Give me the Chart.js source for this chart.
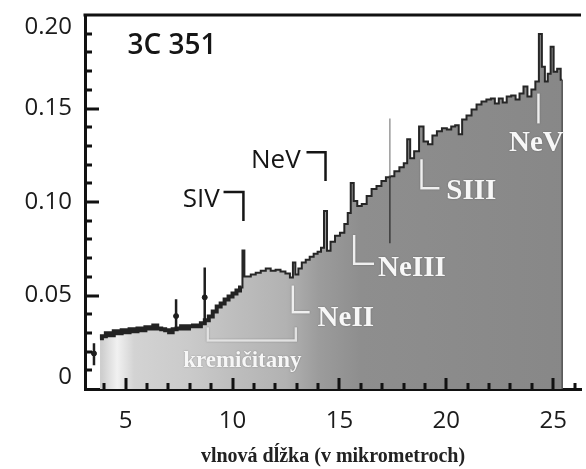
<!DOCTYPE html>
<html>
<head>
<meta charset="utf-8">
<script src="https://cdn.jsdelivr.net/npm/chart.js@4.4.0/dist/chart.umd.min.js"></script>
<style>
  html, body { margin: 0; padding: 0; background: #fff; }
  canvas { display: block; }
</style>
</head>
<body>
<canvas id="spectrum" width="586" height="469"></canvas>
<script>
// 3C 351 mid-infrared spectrum: flux vs. wavelength in micrometres
const wavelength = [
  3.80, 3.98, 4.17, 4.35, 4.54, 4.72, 4.91, 5.09, 5.28, 5.46, 5.65, 5.83, 6.02, 6.20, 6.39, 6.57,
  6.76, 6.94, 7.13, 7.27, 7.50, 7.69, 7.87, 8.06, 8.24, 8.43, 8.61, 8.80, 8.98, 9.17, 9.35, 9.54,
  9.72, 9.91, 10.09, 10.28, 10.42, 10.51, 10.60, 10.74, 10.97, 11.20, 11.44, 11.67, 11.90, 12.13,
  12.36, 12.59, 12.78, 12.87, 13.01, 13.15, 13.33, 13.52, 13.70, 13.89, 14.07, 14.21, 14.35, 14.49,
  14.68, 14.91, 15.14, 15.32, 15.46, 15.60, 15.74, 15.93, 16.16, 16.39, 16.62, 16.85, 17.08, 17.27,
  17.45, 17.69, 17.92, 18.10, 18.24, 18.38, 18.61, 18.84, 19.03, 19.26, 19.44, 19.68, 19.91, 20.14,
  20.32, 20.51, 20.65, 20.83, 21.06, 21.30, 21.53, 21.76, 21.99, 22.18, 22.36, 22.55, 22.73, 22.92,
  23.15, 23.33, 23.52, 23.70, 23.89, 24.07, 24.26, 24.40, 24.54, 24.68, 24.81, 24.95, 25.09, 25.28,
  25.42
];
const flux = [
  0.0271, 0.0282, 0.0298, 0.0287, 0.0309, 0.0298, 0.0314, 0.0303, 0.0319, 0.0309, 0.0324, 0.0314, 0.0330, 0.0324, 0.0340, 0.0324,
  0.0319, 0.0314, 0.0303, 0.0319, 0.0324, 0.0335, 0.0324, 0.0335, 0.0340, 0.0335, 0.0351, 0.0367, 0.0388, 0.0415, 0.0441, 0.0457,
  0.0479, 0.0495, 0.0511, 0.0527, 0.0543, 0.0740, 0.0601, 0.0601, 0.0612, 0.0622, 0.0633, 0.0644, 0.0633, 0.0638,
  0.0628, 0.0617, 0.0596, 0.0676, 0.0612, 0.0644, 0.0676, 0.0691, 0.0707, 0.0723, 0.0734, 0.0755, 0.0952, 0.0739,
  0.0787, 0.0819, 0.0835, 0.0883, 0.0941, 0.1101, 0.1005, 0.0979, 0.0989, 0.1032, 0.1069, 0.1085, 0.1112, 0.1133,
  0.1138, 0.1165, 0.1186, 0.1207, 0.1335, 0.1234, 0.1271, 0.1404, 0.1324, 0.1309, 0.1356, 0.1378, 0.1394, 0.1388,
  0.1404, 0.1410, 0.1362, 0.1441, 0.1463, 0.1495, 0.1521, 0.1537, 0.1548, 0.1553, 0.1527, 0.1553, 0.1532, 0.1564,
  0.1569, 0.1548, 0.1580, 0.1617, 0.1564, 0.1601, 0.1644, 0.1899, 0.1723, 0.1644, 0.1686, 0.1830, 0.1697, 0.1713,
  0.1654
];

// isolated measurements with error bars
const errX = [3.52, 7.36, 8.70];
const errY = [0.019, 0.039, 0.049];
const errLow = [0.0127, 0.031, 0.035];
const errHigh = [0.0245, 0.048, 0.065];

// thin spike near 17.4 um
const spikeX = [17.36, 17.36, 17.36];
const spikeY = [0.078, 0.114, 0.1447];

const xTicks = [5, 10, 15, 20, 25];
const yTicks = [0, 0.05, 0.10, 0.15, 0.20];
const yTickLabels = ['0', '0.05', '0.10', '0.15', '0.20'];

const spectrumPoints = wavelength.map((w, i) => ({ x: w, y: flux[i] }));
// the noisy short-wavelength part gets a heavier outline
const noisyPoints = spectrumPoints.filter(p => p.x <= 10.42);
const errorBarPoints = [];
errX.forEach((w, i) => {
  errorBarPoints.push({ x: w, y: errLow[i] }, { x: w, y: errHigh[i] }, { x: w + 0.01, y: null });
});
const errorCentres = errX.map((w, i) => ({ x: w, y: errY[i] }));
const spikePoints = spikeX.map((w, i) => ({ x: w, y: spikeY[i] }));

// grey fill: pale on the short-wavelength side, darker towards 25 um
function fillGradient(context) {
  const chart = context.chart;
  const { ctx, chartArea, scales } = chart;
  if (!chartArea) return '#999';
  const g = ctx.createLinearGradient(chartArea.left, 0, chartArea.right, 0);
  const stops = [
    [3.1, '#c4c4c4'], [3.9, '#cfcfcf'], [4.6, '#f1f1f1'], [5.4, '#d3d3d3'],
    [8.0, '#cacaca'], [10.0, '#bebebe'], [12.5, '#b2b2b2'], [14.0, '#9c9c9c'],
    [16.0, '#8e8e8e'], [26.3, '#878787']
  ];
  const w = chartArea.right - chartArea.left;
  stops.forEach(([v, c]) => {
    const f = (scales.x.getPixelForValue(v) - chartArea.left) / w;
    g.addColorStop(Math.min(1, Math.max(0, f)), c);
  });
  return g;
}

// inner tick marks, y labels, top frame line, emission-line markers and captions
const decorations = {
  id: 'decorations',
  afterDatasetsDraw(chart) {
    const { ctx, chartArea: a, scales: { x, y } } = chart;
    const X = v => x.getPixelForValue(v);
    const Y = v => y.getPixelForValue(v);
    const path = (pts) => {
      ctx.beginPath();
      pts.forEach(([p, q], i) => i ? ctx.lineTo(X(p), Y(q)) : ctx.moveTo(X(p), Y(q)));
      ctx.stroke();
    };
    ctx.save();

    // right-hand edge of the spectrum down to the axis
    const last = wavelength.length - 1;
    ctx.strokeStyle = '#505050';
    ctx.lineWidth = 1.5;
    path([[wavelength[last], flux[last]], [wavelength[last], 0]]);

    ctx.fillStyle = '#111';
    for (let v = 4; v <= 26; v++) {
      const px = Math.round(X(v));
      const len = v % 5 === 0 ? 11 : 6;
      ctx.fillRect(px - 1.5, a.bottom - len, 3, len);
    }
    for (let i = 1; i <= 19; i++) {
      const py = Math.round(Y(i / 100));
      const len = i % 5 === 0 ? 14 : 7;
      ctx.fillRect(a.left, py - 1.5, len, 3);
    }
    const top = Math.round(Y(0.20));
    ctx.fillRect(a.left - 1.5, top - 1.5, a.right - a.left + 1.5, 3);

    // y labels, the end ones kept inside the frame height
    ctx.fillStyle = '#1b1b1b';
    ctx.font = '24px "Open Sans"';
    ctx.textAlign = 'right';
    ctx.textBaseline = 'middle';
    yTicks.forEach((v, i) => {
      const py = Math.min(Math.max(Y(v), a.top + 12), a.bottom - 12);
      ctx.fillText(yTickLabels[i], a.left - 13, py);
    });

    ctx.lineJoin = 'miter';

    // black captions above the spectrum
    ctx.fillStyle = '#151515';
    ctx.strokeStyle = '#151515';
    ctx.lineWidth = 2.5;
    ctx.textBaseline = 'alphabetic';
    ctx.font = '600 28px "Open Sans"';
    ctx.textAlign = 'left';
    ctx.fillText('3C 351', X(5.09), Y(0.179));
    ctx.font = '26px "Open Sans"';
    ctx.textAlign = 'right';
    ctx.fillText('SIV', X(9.40), Y(0.0973));
    path([[9.58, 0.1053], [10.51, 0.1053], [10.51, 0.0899]]);
    ctx.fillText('NeV', X(13.19), Y(0.118));
    path([[13.46, 0.1266], [14.35, 0.1266], [14.35, 0.1112]]);

    // white captions inside the filled area
    ctx.fillStyle = '#f7f7f7';
    ctx.strokeStyle = '#efefef';
    ctx.lineWidth = 2.5;
    ctx.shadowColor = 'rgba(0,0,0,0.35)';
    ctx.shadowBlur = 1.5;
    ctx.font = 'bold 29px "Liberation Serif"';
    ctx.textAlign = 'left';
    path([[12.82, 0.0553], [12.82, 0.0410], [13.61, 0.0410]]);
    ctx.fillText('NeII', X(13.98), Y(0.0335));
    path([[15.69, 0.0824], [15.69, 0.0670], [16.62, 0.0670]]);
    ctx.fillText('NeIII', X(16.81), Y(0.0606));
    path([[18.84, 0.1229], [18.84, 0.1074], [19.68, 0.1074]]);
    ctx.fillText('SIII', X(20.0), Y(0.1016));
    path([[24.31, 0.158], [24.31, 0.142]]);
    ctx.textAlign = 'center';
    ctx.fillText('NeV', X(24.21), Y(0.1271));

    ctx.strokeStyle = '#e2e2e2';
    path([[8.84, 0.033], [8.84, 0.026], [12.96, 0.026], [12.96, 0.033]]);
    ctx.font = 'bold 23px "Liberation Serif"';
    ctx.fillText('kremičitany', X(10.46), Y(0.0117));
    ctx.restore();
  }
};

new Chart(document.getElementById('spectrum'), {
  type: 'line',
  data: {
    datasets: [
      {
        label: 'spike',
        data: spikePoints,
        borderWidth: 1.5,
        pointRadius: 0,
        fill: false,
        order: 1,
        segment: {
          borderColor: ctx => ctx.p1.parsed.y > 0.115 ? '#9a9a9a' : '#3a3a3a'
        }
      },
      {
        label: 'error bars',
        data: errorBarPoints,
        borderColor: '#1e1e1e',
        borderWidth: 2.5,
        pointRadius: 0,
        spanGaps: false,
        fill: false,
        order: 1
      },
      {
        label: 'points',
        type: 'scatter',
        data: errorCentres,
        backgroundColor: '#1e1e1e',
        borderColor: '#1e1e1e',
        pointRadius: 2.5,
        order: 1
      },
      {
        label: 'noisy part',
        data: noisyPoints,
        stepped: 'middle',
        borderColor: '#232323',
        borderWidth: 4,
        fill: false,
        pointRadius: 0,
        order: 2
      },
      {
        label: '3C 351',
        data: spectrumPoints,
        stepped: 'middle',
        borderColor: '#262626',
        borderWidth: 2,
        backgroundColor: fillGradient,
        fill: 'origin',
        pointRadius: 0,
        order: 3
      }
    ]
  },
  options: {
    responsive: false,
    animation: false,
    devicePixelRatio: 1,
    layout: { padding: { top: 15, right: 0, bottom: 0, left: 0 } },
    plugins: {
      legend: { display: false },
      tooltip: { enabled: false }
    },
    scales: {
      x: {
        type: 'linear',
        min: 3.1,
        max: 26.3,
        afterBuildTicks: s => { s.ticks = xTicks.map(v => ({ value: v })); },
        afterFit: s => { s.height = 80; s.paddingLeft = 0; s.paddingRight = 0; },
        grid: { display: false },
        border: { display: true, color: '#111', width: 3 },
        ticks: {
          color: '#1b1b1b',
          padding: 10,
          maxRotation: 0,
          font: { family: '"Open Sans"', size: 24 }
        },
        title: {
          display: true,
          text: 'vlnová dĺžka (v mikrometroch)',
          color: '#222',
          padding: { top: 0, bottom: 0 },
          font: { family: '"Liberation Serif"', size: 20, weight: 'bold' }
        }
      },
      y: {
        min: 0,
        max: 0.20,
        afterBuildTicks: s => { s.ticks = yTicks.map(v => ({ value: v })); },
        afterFit: s => { s.width = 85; s.paddingTop = 0; s.paddingBottom = 0; },
        grid: { display: false },
        border: { display: true, color: '#111', width: 3 },
        ticks: { display: false }
      }
    }
  },
  plugins: [decorations]
});
</script>
</body>
</html>
